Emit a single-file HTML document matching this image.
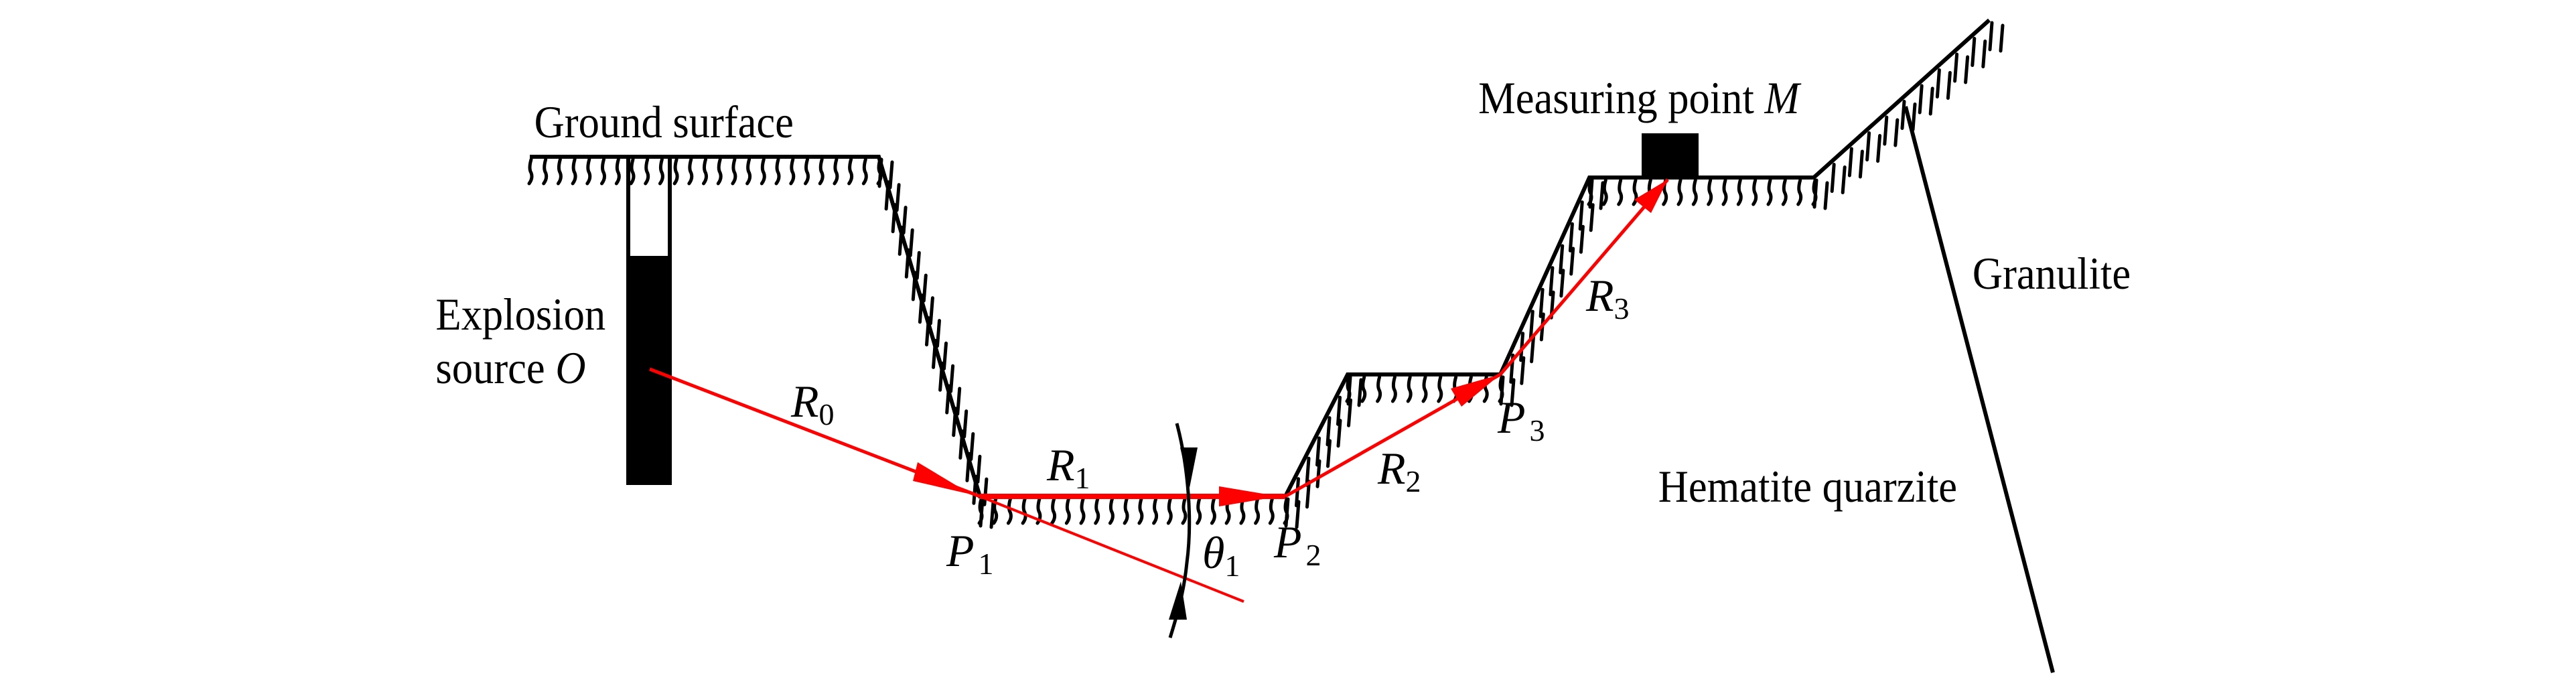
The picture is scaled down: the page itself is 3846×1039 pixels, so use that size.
<!DOCTYPE html>
<html><head><meta charset="utf-8"><style>
html,body{margin:0;padding:0;background:#fff;}
svg{display:block;}
text{font-family:"Liberation Serif",serif;font-size:68px;fill:#000;}
.i{font-style:italic;}
.s{font-size:46px;font-style:normal;}
</style></head><body>
<svg id="g" width="3846" height="1039" viewBox="0 0 3846 1039" xmlns="http://www.w3.org/2000/svg">
<rect x="935" y="234" width="68" height="490" fill="#000"/>
<rect x="941" y="237" width="56" height="145" fill="#fff"/>
<g id="hatch" stroke="#000" stroke-width="5" fill="none" stroke-linecap="round"></g>
<g stroke="#000" stroke-width="6" fill="none">
<polyline points="791,234 1312,234 1463,741 1919,741 2012,559 2240,559 2373,265 2708,265 2970,30"/>
<line x1="2845" y1="159" x2="3065" y2="1004"/>
</g>
<rect x="2451" y="199" width="85" height="66" fill="#000"/>
<g stroke="#f00" stroke-width="5" fill="none">
<line x1="970" y1="551" x2="1463" y2="741"/>
<line x1="1463" y1="741" x2="1857" y2="898" stroke-width="4"/>
<line x1="1463" y1="741" x2="1919" y2="741" stroke-width="8"/>
<line x1="1919" y1="741" x2="2240" y2="559"/>
<line x1="2240" y1="559" x2="2490" y2="268"/>
</g>
<g fill="#f00">
<polygon points="1450,738 1363,718 1370,690"/>
<polygon points="1910,741 1820,726 1820,756"/>
<polygon points="2240,559 2182,607 2166,580"/>
<polygon points="2490,268 2465,318 2440,298"/>
</g>
<path d="M1757,632 C1775,700 1780,780 1772,840 C1768,880 1760,910 1747,952" stroke="#000" stroke-width="5" fill="none"/>
<polygon points="1776,728 1762,668 1788,668" fill="#000"/>
<polygon points="1763,868 1745,925 1772,925" fill="#000"/>
<g transform="scale(0.92,1)">
<text x="867" y="205">Ground surface</text>
<text x="707" y="492">Explosion</text>
<text x="707" y="572">source <tspan class="i">O</tspan></text>
<text x="2399" y="169">Measuring point <tspan class="i">M</tspan></text>
<text x="3201" y="431">Granulite</text>
<text x="2691" y="749">Hematite quarzite</text>
</g>
<text x="1181" y="622" class="i">R<tspan class="s" dy="12">0</tspan></text>
<text x="1563" y="717" class="i">R<tspan class="s" dy="12">1</tspan></text>
<text x="1413" y="845" class="i">P<tspan class="s" dy="12" dx="6">1</tspan></text>
<text x="1795" y="848" class="i">θ<tspan class="s" dy="12">1</tspan></text>
<text x="1902" y="832" class="i">P<tspan class="s" dy="12" dx="6">2</tspan></text>
<text x="2057" y="722" class="i">R<tspan class="s" dy="12">2</tspan></text>
<text x="2236" y="646" class="i">P<tspan class="s" dy="12" dx="6">3</tspan></text>
<text x="2368" y="464" class="i">R<tspan class="s" dy="12">3</tspan></text>
</svg>
<script>
(function(){
var g=document.getElementById('hatch');
var segs=[[791,234,1312,234],[1312,234,1463,741],[1463,741,1919,741],[1919,741,2012,559],[2012,559,2240,559],[2240,559,2373,265],[2373,265,2708,265],[2708,265,2970,30]];
var d='';
segs.forEach(function(s){
var dx=s[2]-s[0],dy=s[3]-s[1],L=Math.sqrt(dx*dx+dy*dy);
var slope=(s[1]!=s[3]);
var sp=slope?34:21;
var n=Math.floor(L/sp);
for(var i=0;i<=n;i++){
var t=i/n,x=s[0]+dx*t,y=s[1]+dy*t;
if(!slope){
d+='M'+(x+2).toFixed(1)+','+(y+4).toFixed(1)+' q-4,14 0,20 q3,8 -3,16 ';
}else{
d+='M'+(x+4).toFixed(1)+','+(y+4).toFixed(1)+' l-3,40 ';
d+='M'+(x+20).toFixed(1)+','+(y+8).toFixed(1)+' l-3,38 ';
}
}
});
var p=document.createElementNS('http://www.w3.org/2000/svg','path');
p.setAttribute('d',d);g.appendChild(p);
})();
</script>
</body></html>
